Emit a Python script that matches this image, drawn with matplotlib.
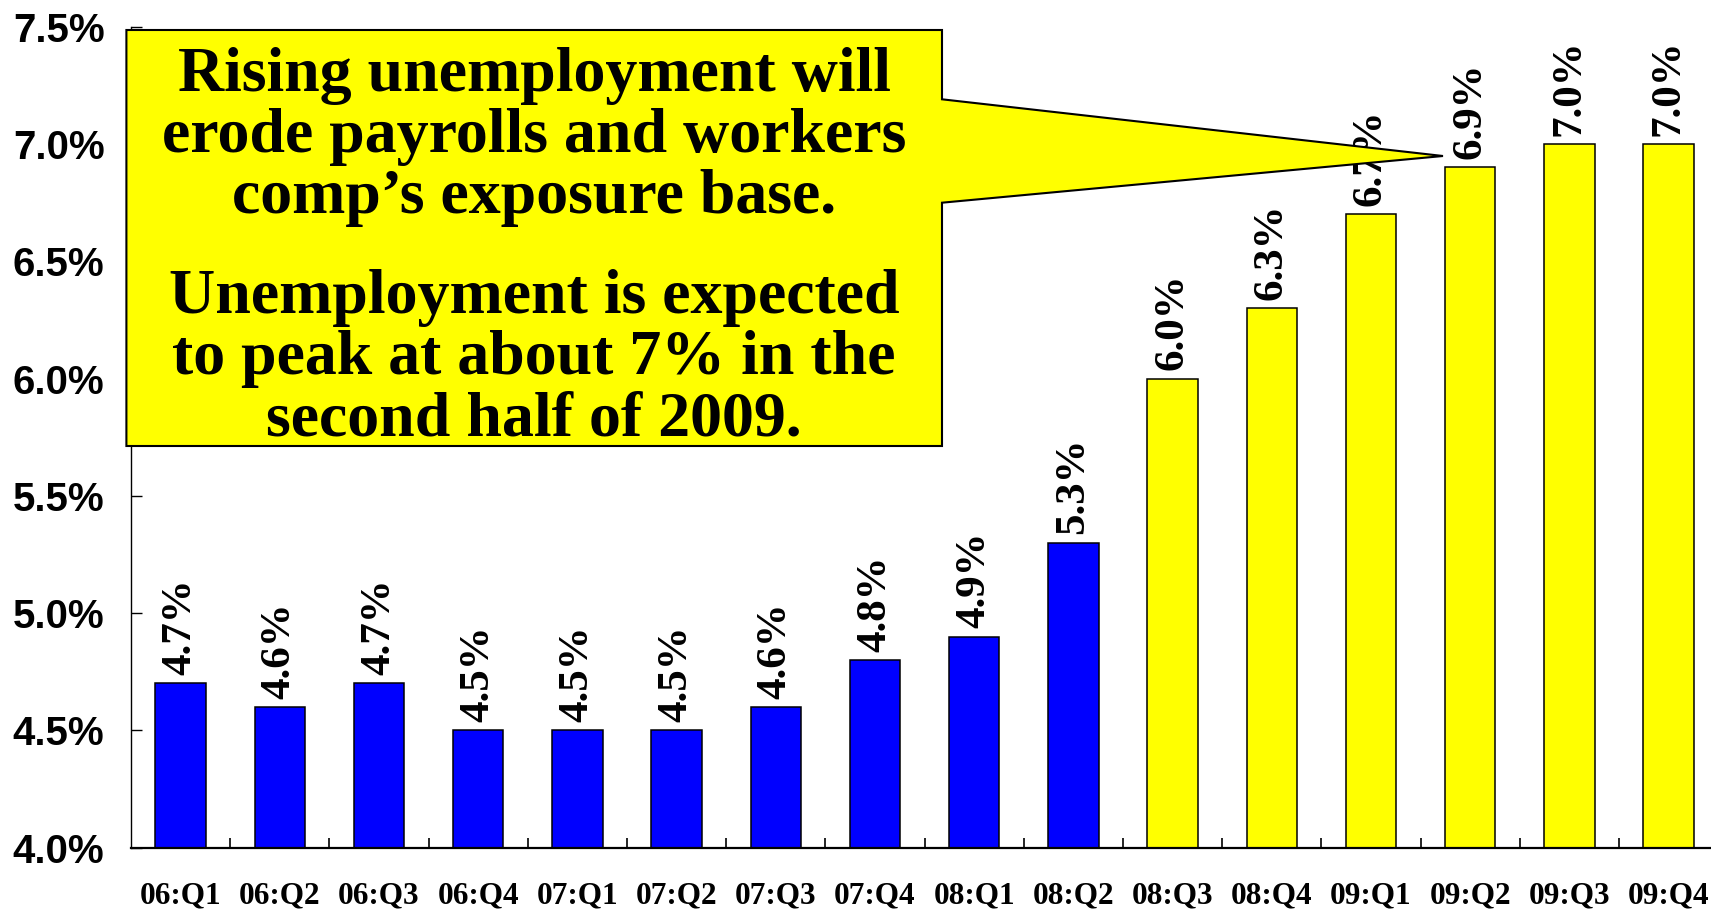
import matplotlib

matplotlib.use("Agg")
import matplotlib.pyplot as plt  # noqa: E402
import numpy as np
from matplotlib.patches import Polygon
from matplotlib.ticker import FuncFormatter

# Quarterly unemployment rate, actual (blue) then forecast (yellow)
quarters = ["06:Q1", "06:Q2", "06:Q3", "06:Q4", "07:Q1", "07:Q2", "07:Q3", "07:Q4",
            "08:Q1", "08:Q2", "08:Q3", "08:Q4", "09:Q1", "09:Q2", "09:Q3", "09:Q4"]
actual_rate = [4.7, 4.6, 4.7, 4.5, 4.5, 4.5, 4.6, 4.8, 4.9, 5.3]
forecast_rate = [6.0, 6.3, 6.7, 6.9, 7.0, 7.0]
y_ticks = [4.0, 4.5, 5.0, 5.5, 6.0, 6.5, 7.0, 7.5]

callout_lines = [
    "Rising unemployment will",
    "erode payrolls and workers",
    "comp\u2019s exposure base.",
    "Unemployment is expected",
    "to peak at about 7% in the",
    "second half of 2009.",
]

W, H = 1711, 909
SERIF = "Liberation Serif"
SANS = "Liberation Sans"


def px(x, y):
    """Pixel position (origin top-left) -> figure fraction."""
    return x / W, 1 - y / H


fig = plt.figure(figsize=(W / 100, H / 100), dpi=100)
ax = fig.add_axes([131 / W, 61.3 / H, 1587.2 / W, 821.1 / H])

rates = actual_rate + forecast_rate
colors = ["#0000FF"] * len(actual_rate) + ["#FFFF00"] * len(forecast_rate)
x = np.arange(len(quarters))
bars = ax.bar(x, rates, width=0.51, color=colors, edgecolor="black", linewidth=1.1, zorder=2)

for rect, val in zip(bars, rates):
    ax.annotate(f"{val:.1f}%", (rect.get_x() + rect.get_width() / 2, val),
                xytext=(0, 6), textcoords="offset points",
                ha="center", va="bottom", rotation=90,
                family=SERIF, fontweight="bold", fontsize=31, zorder=3)

ax.set_xlim(-0.5, len(quarters) - 0.5)
ax.set_ylim(4.0, 7.5)

ax.set_xticks(x)
ax.set_xticklabels(quarters, family=SERIF, fontweight="bold", fontsize=22.5)
ax.set_xticks(x[:-1] + 0.5, minor=True)
ax.tick_params(axis="x", which="major", length=0, pad=24)
ax.tick_params(axis="x", which="minor", direction="in", length=7, width=1.2)

ax.set_yticks(y_ticks)
ax.yaxis.set_major_formatter(FuncFormatter(lambda v, _: f"{v:.1f}%"))
ax.tick_params(axis="y", direction="in", length=8, width=1.0, pad=19)
for lbl in ax.get_yticklabels():
    lbl.set_family(SANS)
    lbl.set_fontweight("bold")
    lbl.set_fontsize(29)

for side in ("top", "right"):
    ax.spines[side].set_visible(False)
ax.spines["bottom"].set_linewidth(1.6)
ax.spines["left"].set_linewidth(1.0)

# Speech-bubble callout pointing at the 2009 peak
outline = [(126.4, 30), (942, 30), (942, 99.3), (1443, 156), (942, 202.7),
           (942, 446), (126.4, 446)]
bubble = Polygon([px(*p) for p in outline], closed=True, transform=fig.transFigure,
                 facecolor="#FFFF00", edgecolor="black", linewidth=1.5, zorder=10)
fig.patches.append(bubble)

baselines = [91, 152, 213, 313, 374, 435]
for text, yb in zip(callout_lines, baselines):
    fx, fy = px(534, yb)
    fig.text(fx, fy, text, ha="center", va="baseline", family=SERIF,
             fontweight="bold", fontsize=46, zorder=11)

fig.savefig("out.png", dpi=100)
plt.close(fig)
